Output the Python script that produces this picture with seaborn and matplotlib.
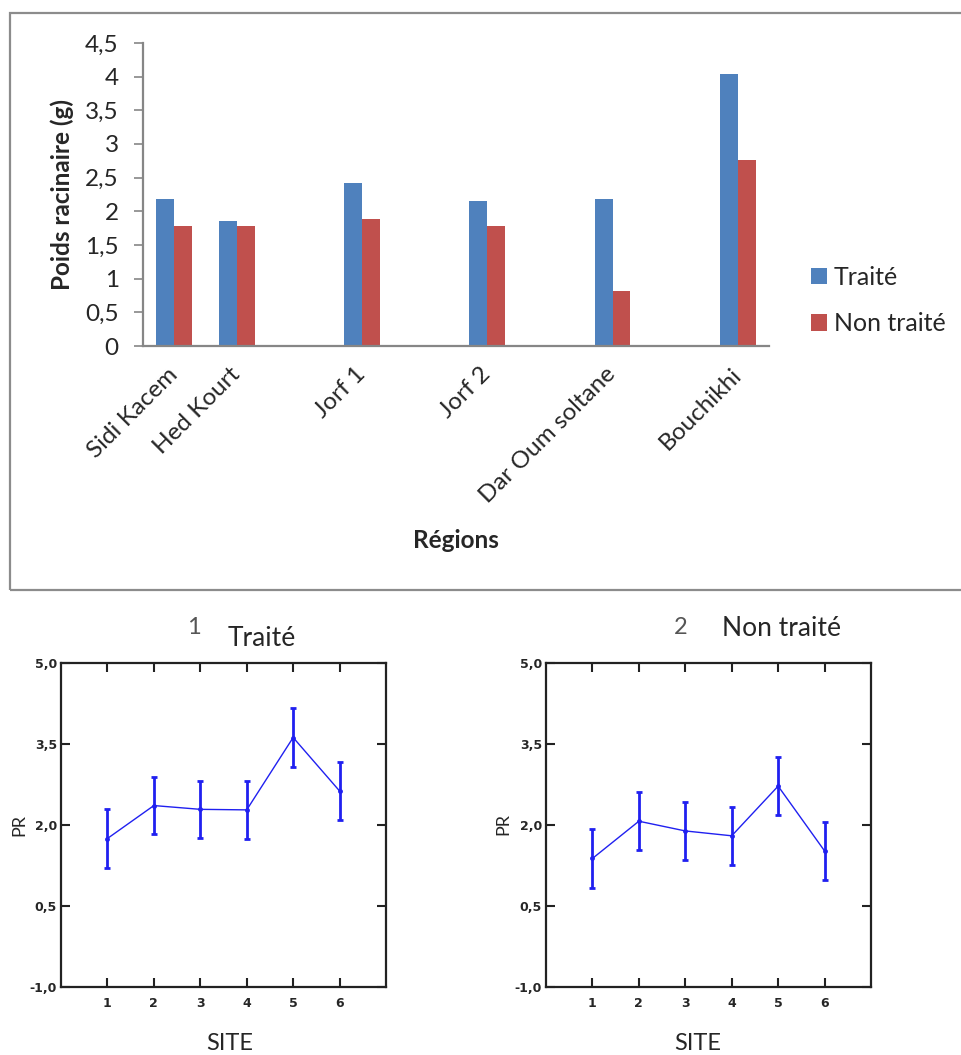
import numpy as np
import pandas as pd
import matplotlib
matplotlib.use("Agg")
import matplotlib.pyplot as plt
import matplotlib.transforms as mtransforms
from matplotlib.patches import Rectangle
import seaborn as sns

# ---------------- data ----------------
regions = ["Sidi Kacem", "Hed Kourt", "Jorf 1", "Jorf 2", "Dar Oum soltane", "Bouchikhi"]
traite = [2.18, 1.86, 2.42, 2.15, 2.18, 4.04]
non_traite = [1.78, 1.78, 1.88, 1.78, 0.82, 2.76]
# category slots on the bar chart (blank slots between groups, as in the original)
slots = ["Sidi Kacem", "Hed Kourt", " ", "Jorf 1", "  ", "Jorf 2", "   ",
         "Dar Oum soltane", "    ", "Bouchikhi"]
series_names = ["Traité", "Non traité"]
bar_yticks = [0, 0.5, 1, 1.5, 2, 2.5, 3, 3.5, 4, 4.5]
bar_yticklabels = ["0", "0,5", "1", "1,5", "2", "2,5", "3", "3,5", "4", "4,5"]

sites = [1, 2, 3, 4, 5, 6]
pr_traite = [1.75, 2.36, 2.29, 2.28, 3.62, 2.63]
pr_traite_err = [0.54, 0.53, 0.53, 0.53, 0.55, 0.54]
pr_non_traite = [1.38, 2.07, 1.89, 1.80, 2.72, 1.52]
pr_non_traite_err = [0.54, 0.54, 0.54, 0.54, 0.54, 0.54]
pr_yticks = [-1.0, 0.5, 2.0, 3.5, 5.0]
pr_yticklabels = ["-1,0", "0,5", "2,0", "3,5", "5,0"]

# ---------------- style ----------------
sns.set_theme(style="white")
plt.rcParams["font.family"] = ["Lato", "DejaVu Sans"]

W, H = 961, 1055
fig = plt.figure(figsize=(W / 100, H / 100), dpi=100)
fig.patch.set_facecolor("white")


def fx(px):
    return px / W


def fy(py):
    return 1 - py / H


# frame around the top chart
fig.patches.append(Rectangle((fx(10), fy(590)), fx(961) - fx(10) + 0.01, fy(13) - fy(590),
                             transform=fig.transFigure, fill=False,
                             edgecolor="#8c8c8c", linewidth=1.6, clip_on=False))

# ---------------- top bar chart ----------------
ax = fig.add_axes([fx(143), fy(346), fx(769) - fx(143), fy(43) - fy(346)])
df = pd.DataFrame({
    "region": regions * 2,
    "treatment": [series_names[0]] * len(regions) + [series_names[1]] * len(regions),
    "value": traite + non_traite,
})
blue, red = "#4F81BD", "#C0504D"
sns.barplot(data=df, x="region", y="value", hue="treatment", order=slots,
            hue_order=series_names, palette=[blue, red], width=0.575,
            saturation=1, linewidth=0, ax=ax)
ax.set_ylim(0, 4.5)
ax.set_xlim(-0.5, len(slots) - 0.5)
ax.set_yticks(bar_yticks)
ax.set_yticklabels(bar_yticklabels, fontsize=17.5)
ax.set_xticks(range(len(slots)))
ax.set_xticklabels(slots, fontsize=17.5, rotation=45, ha="right", va="center",
                   rotation_mode="anchor")
offset = mtransforms.ScaledTranslation(5 / 100, 0, fig.dpi_scale_trans)
for lab in ax.get_xticklabels():
    lab.set_transform(lab.get_transform() + offset)
ax.tick_params(axis="x", length=0, pad=18)
ax.tick_params(axis="y", length=6.5, width=1.2, color="#868686", pad=11, direction="out", left=True)
for s in ["top", "right"]:
    ax.spines[s].set_visible(False)
for s in ["left", "bottom"]:
    ax.spines[s].set_color("#868686")
    ax.spines[s].set_linewidth(1.6)
ax.set_xlabel("")
ax.set_ylabel("")
ax.set_facecolor("white")
leg = ax.legend(frameon=False, fontsize=18, handlelength=0.65, handleheight=0.65,
                handletextpad=0.25, labelspacing=0.95, borderpad=0, borderaxespad=0,
                loc="center left", bbox_to_anchor=(fx(811), fy(300.5)),
                bbox_transform=fig.transFigure)
fig.text(fx(62), fy(195), "Poids racinaire (g)", rotation=90, ha="center", va="center",
         fontsize=17.5, fontweight="bold")
fig.text(fx(456), fy(541), "Régions", ha="center", va="center", fontsize=17.5,
         fontweight="bold")

# ---------------- bottom panels ----------------
line_col = "#2020f0"


def panel(left_px, means, errs):
    a = fig.add_axes([fx(left_px), fy(987), fx(325), fy(663) - fy(987)])
    sns.lineplot(x=sites, y=means, ax=a, color=line_col, linewidth=1.0,
                 marker="o", markersize=3.5, markeredgewidth=0)
    a.errorbar(sites, means, yerr=errs, fmt="none", ecolor=line_col,
               elinewidth=2, capsize=2.3, capthick=2)
    a.set_xlim(0, 7)
    a.set_ylim(-1, 5)
    a.set_xticks(sites)
    a.set_xticklabels([str(s) for s in sites], fontsize=9, fontweight="bold",
                      family="DejaVu Sans")
    a.set_yticks(pr_yticks)
    a.set_yticklabels(pr_yticklabels, fontsize=9, fontweight="bold",
                      family="DejaVu Sans")
    a.tick_params(direction="in", top=True, right=True, bottom=True, left=True,
                  length=6.5, width=1.5, color="#222222", pad=3)
    a.tick_params(axis="x", pad=7)
    for s in a.spines.values():
        s.set_visible(True)
        s.set_color("#222222")
        s.set_linewidth(1.6)
    a.set_facecolor("white")
    a.set_xlabel("")
    a.set_ylabel("")
    return a


panel(61, pr_traite, pr_traite_err)
panel(546, pr_non_traite, pr_non_traite_err)

fig.text(fx(194), fy(627), "1", ha="center", va="center", fontsize=17, color="#555555")
fig.text(fx(261.5), fy(639), "Traité", ha="center", va="center", fontsize=19)
fig.text(fx(681), fy(628), "2", ha="center", va="center", fontsize=17, color="#555555")
fig.text(fx(781.5), fy(629), "Non traité", ha="center", va="center", fontsize=19)
fig.text(fx(229.5), fy(1043), "SITE", ha="center", va="center", fontsize=17)
fig.text(fx(698), fy(1043), "SITE", ha="center", va="center", fontsize=17)
fig.text(fx(19), fy(825), "PR", ha="center", va="center", fontsize=13, rotation=90)
fig.text(fx(503), fy(824), "PR", ha="center", va="center", fontsize=13, rotation=90)

fig.savefig("out.png", dpi=100, facecolor="white")
